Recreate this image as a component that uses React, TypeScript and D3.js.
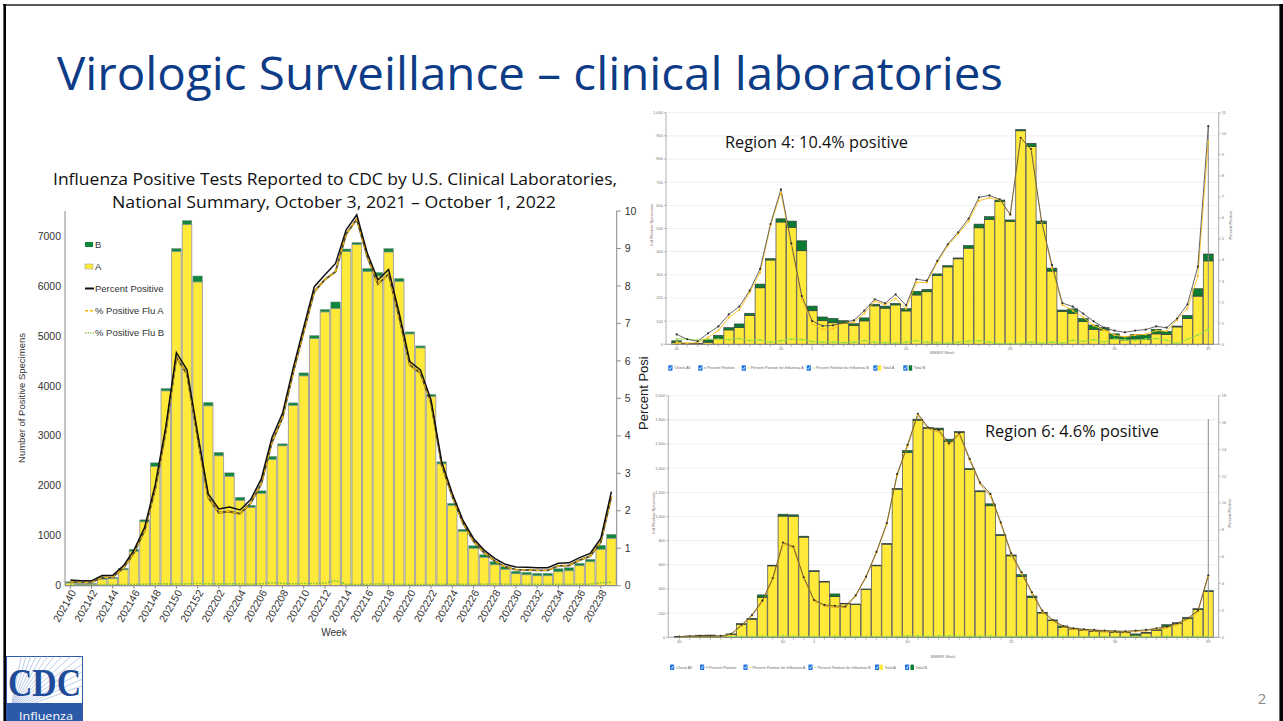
import React from "react";
import * as d3 from "d3";

// ---- national summary (clinical labs) ----
const weeks = [
  "202140", "202141", "202142", "202143", "202144", "202145", "202146", "202147", "202148", "202149",
  "202150", "202151", "202152", "202201", "202202", "202203", "202204", "202205", "202206", "202207",
  "202208", "202209", "202210", "202211", "202212", "202213", "202214", "202215", "202216", "202217",
  "202218", "202219", "202220", "202221", "202222", "202223", "202224", "202225", "202226", "202227",
  "202228", "202229", "202230", "202231", "202232", "202233", "202234", "202235", "202236", "202237",
  "202238", "202239",
];
const natTotal = [80, 40, 45, 160, 170, 350, 730, 1320, 2460, 3950, 6750, 7310, 6200, 3670, 2670, 2260, 1770, 1610, 1900, 2590, 2840, 3660, 4260, 5010, 5530, 5680, 6740, 6870, 6350, 6270, 6750, 6150, 5080, 4800, 3830, 2480, 1650, 1130, 800, 620, 480, 380, 290, 270, 250, 250, 340, 360, 450, 530, 810, 1030];
const natB = [25, 15, 15, 30, 25, 30, 40, 40, 70, 50, 60, 80, 120, 70, 70, 70, 60, 40, 50, 60, 40, 50, 60, 60, 50, 130, 50, 40, 60, 70, 70, 60, 40, 40, 40, 40, 40, 40, 50, 50, 60, 50, 50, 50, 50, 50, 60, 60, 50, 50, 80, 80];
const natPct = [0.15, 0.13, 0.13, 0.27, 0.28, 0.53, 0.95, 1.55, 2.69, 4.24, 6.22, 5.76, 4.07, 2.45, 2.05, 2.1, 2.02, 2.3, 2.85, 3.95, 4.6, 5.8, 6.9, 7.98, 8.3, 8.6, 9.5, 9.9, 8.87, 8.16, 8.44, 7.27, 5.98, 5.76, 4.96, 3.31, 2.46, 1.75, 1.26, 0.95, 0.73, 0.57, 0.5, 0.49, 0.48, 0.48, 0.6, 0.61, 0.75, 0.86, 1.26, 2.51];
const natPctA = [0.1, 0.09, 0.09, 0.22, 0.23, 0.47, 0.88, 1.47, 2.58, 4.12, 6.1, 5.64, 3.95, 2.35, 1.95, 1.98, 1.92, 2.2, 2.72, 3.82, 4.48, 5.68, 6.78, 7.85, 8.17, 8.38, 9.38, 9.78, 8.77, 8.05, 8.32, 7.16, 5.89, 5.67, 4.88, 3.23, 2.38, 1.68, 1.19, 0.88, 0.66, 0.5, 0.43, 0.42, 0.41, 0.41, 0.53, 0.54, 0.68, 0.79, 1.16, 2.38];
const natPctB = [0.03, 0.02, 0.02, 0.03, 0.03, 0.03, 0.04, 0.04, 0.05, 0.05, 0.05, 0.05, 0.06, 0.05, 0.05, 0.05, 0.05, 0.04, 0.05, 0.08, 0.06, 0.05, 0.06, 0.06, 0.07, 0.14, 0.04, 0.03, 0.04, 0.05, 0.04, 0.04, 0.03, 0.03, 0.03, 0.04, 0.04, 0.04, 0.04, 0.04, 0.05, 0.04, 0.04, 0.04, 0.04, 0.04, 0.04, 0.04, 0.04, 0.04, 0.08, 0.09];
const natLeftTicks = [0, 1000, 2000, 3000, 4000, 5000, 6000, 7000];
const natRightTicks = [0, 1, 2, 3, 4, 5, 6, 7, 8, 9, 10];
const natTickWeeks = weeks.filter((_, i) => i % 2 === 0);

// ---- region screenshots ----
const regionWeeks = weeks.map((w) => String(+w.slice(4)));
const regionTickWeeks = ["40", "50", "1", "10", "20", "30", "39"];

const r4Total = [15, 5, 3, 19, 39, 72, 88, 134, 260, 370, 542, 532, 447, 165, 118, 112, 102, 89, 114, 173, 165, 177, 154, 229, 237, 304, 340, 373, 427, 519, 551, 623, 537, 928, 868, 532, 329, 148, 153, 111, 83, 72, 45, 33, 42, 43, 65, 56, 79, 125, 240, 390];
const r4B = [8, 3, 2, 10, 13, 10, 16, 9, 16, 6, 14, 27, 43, 20, 16, 19, 12, 7, 13, 7, 9, 7, 10, 16, 10, 7, 6, 4, 12, 16, 12, 7, 6, 6, 14, 10, 13, 6, 19, 13, 19, 10, 20, 14, 19, 22, 20, 13, 4, 14, 32, 30];
const r4Pct = [0.47, 0.24, 0.14, 0.52, 0.85, 1.42, 1.79, 2.55, 3.58, 5.71, 7.36, 4.79, 2.29, 1.11, 0.87, 0.9, 1.03, 1.14, 1.6, 2.14, 1.95, 2.37, 1.85, 3.09, 3.02, 3.96, 4.75, 5.32, 5.97, 6.98, 7.07, 6.88, 6.17, 9.81, 9.27, 5.85, 3.77, 1.96, 1.79, 1.46, 1.09, 0.79, 0.65, 0.57, 0.65, 0.7, 0.85, 0.79, 1.22, 1.9, 3.69, 10.36];
const r4PctA = [0.1, 0.05, 0.08, 0.32, 0.65, 1.27, 1.63, 2.45, 3.4, 5.63, 7.2, 4.64, 2.14, 0.97, 0.71, 0.74, 1.0, 1.04, 1.47, 2.04, 1.88, 2.18, 1.69, 2.94, 2.93, 3.88, 4.68, 5.24, 5.84, 6.82, 6.96, 6.85, 6.14, 9.78, 9.22, 5.81, 3.61, 1.87, 1.6, 1.28, 0.89, 0.68, 0.43, 0.36, 0.44, 0.47, 0.65, 0.62, 1.16, 1.69, 3.24, 9.62];
const r4PctB = [0.25, 0.25, 0.19, 0.25, 0.24, 0.22, 0.27, 0.17, 0.21, 0.1, 0.17, 0.25, 0.22, 0.13, 0.1, 0.11, 0.08, 0.1, 0.17, 0.1, 0.08, 0.06, 0.1, 0.17, 0.11, 0.08, 0.05, 0.1, 0.14, 0.17, 0.11, 0.02, 0.02, 0.02, 0.11, 0.05, 0.1, 0.06, 0.19, 0.14, 0.22, 0.11, 0.25, 0.21, 0.19, 0.25, 0.27, 0.19, 0.03, 0.24, 0.44, 0.71];
const r4LeftTicks = [0, 100, 200, 300, 400, 500, 600, 700, 800, 900, 1000];
const r4RightTicks = [0, 1, 2, 3, 4, 5, 6, 7, 8, 9, 10, 11];

const r6Total = [6, 11, 17, 19, 11, 28, 113, 157, 351, 597, 1019, 1014, 837, 552, 464, 359, 282, 276, 400, 597, 776, 1232, 1547, 1806, 1737, 1732, 1640, 1704, 1398, 1213, 1105, 851, 682, 519, 342, 207, 144, 94, 75, 64, 58, 52, 47, 44, 28, 41, 64, 105, 121, 166, 238, 387];
const r6B = [3, 5, 6, 5, 3, 5, 5, 8, 20, 6, 16, 12, 8, 7, 6, 22, 5, 4, 4, 5, 5, 6, 16, 10, 8, 14, 20, 8, 8, 8, 16, 8, 8, 16, 14, 6, 6, 12, 6, 6, 8, 6, 6, 6, 10, 6, 8, 14, 8, 12, 8, 8];
const r6Pct = [0.05, 0.08, 0.1, 0.08, 0.1, 0.25, 0.92, 1.66, 2.73, 4.4, 7.06, 6.76, 4.47, 2.78, 2.41, 2.34, 2.29, 3.13, 4.52, 6.36, 8.5, 12.15, 14.33, 16.65, 15.63, 15.45, 14.46, 15.2, 13.29, 11.53, 10.68, 8.55, 6.26, 4.84, 3.35, 1.99, 1.29, 0.84, 0.67, 0.6, 0.55, 0.5, 0.47, 0.45, 0.5, 0.55, 0.67, 0.8, 1.04, 1.42, 1.99, 4.62];
const r6PctA = [0.02, 0.04, 0.05, 0.04, 0.05, 0.2, 0.85, 1.6, 2.62, 4.3, 6.95, 6.65, 4.38, 2.7, 2.32, 2.22, 2.22, 3.05, 4.45, 6.28, 8.42, 12.05, 14.2, 16.55, 15.52, 15.3, 14.3, 15.08, 13.18, 11.4, 10.52, 8.45, 6.15, 4.72, 3.24, 1.9, 1.22, 0.76, 0.6, 0.53, 0.48, 0.44, 0.41, 0.39, 0.43, 0.48, 0.6, 0.7, 0.95, 1.33, 1.9, 4.55];
const r6PctB = [0.03, 0.04, 0.05, 0.04, 0.05, 0.05, 0.07, 0.06, 0.08, 0.05, 0.1, 0.07, 0.06, 0.05, 0.06, 0.08, 0.06, 0.05, 0.05, 0.06, 0.05, 0.06, 0.1, 0.1, 0.07, 0.09, 0.1, 0.07, 0.07, 0.08, 0.09, 0.06, 0.06, 0.08, 0.07, 0.06, 0.05, 0.07, 0.05, 0.04, 0.05, 0.04, 0.04, 0.04, 0.05, 0.04, 0.05, 0.07, 0.05, 0.06, 0.05, 0.05];
const r6LeftTicks = [0, 200, 400, 600, 800, 1000, 1200, 1400, 1600, 1800, 2000];
const r6RightTicks = [0, 2, 4, 6, 8, 10, 12, 14, 16, 18];

const legendNames = ["Check All", "Percent Positive", "Percent Positive for Influenza A", "Percent Positive for Influenza B", "Total A", "Total B"];

const SANS = "'Liberation Sans', Arial, sans-serif";
const TITLE_FONT = "'Open Sans', 'Noto Sans', sans-serif";
const YELLOW = "#FFEA3A";
const GREEN = "#10873D";

function MainChart() {
  const left = 65, right = 616.7, top = 211, bottom = 585.7;
  const x = d3.scaleBand<string>().domain(weeks).range([left, right]).paddingInner(0.1).paddingOuter(0.05);
  const y = d3.scaleLinear().domain([0, 7500]).range([bottom, top]);
  const yp = d3.scaleLinear().domain([0, 10]).range([bottom, top]);
  const cx = (i: number) => (x(weeks[i]) as number) + x.bandwidth() / 2;
  const line = (vals: number[]) => d3.line<number>().x((_, i) => cx(i)).y((v) => yp(v))(vals) as string;

  return (
    <g fontFamily={SANS}>
      <text x={335} y={185} textAnchor="middle" fontFamily={TITLE_FONT} fontSize={17} fill="#111" textLength={564} lengthAdjust="spacingAndGlyphs">
        Influenza Positive Tests Reported to CDC by U.S. Clinical Laboratories,
      </text>
      <text x={334} y={208} textAnchor="middle" fontFamily={TITLE_FONT} fontSize={17} fill="#111" textLength={444} lengthAdjust="spacingAndGlyphs">
        National Summary, October 3, 2021 – October 1, 2022
      </text>

      {weeks.map((w, i) => {
        const a = natTotal[i] - natB[i];
        return (
          <g key={w}>
            <rect x={x(w)} y={y(a)} width={x.bandwidth()} height={y(0) - y(a)} fill={YELLOW} stroke="#9c9c9c" strokeWidth={0.9} />
            <rect x={x(w)} y={y(natTotal[i])} width={x.bandwidth()} height={y(a) - y(natTotal[i])} fill={GREEN} stroke="#9c9c9c" strokeWidth={0.5} />
          </g>
        );
      })}

      <path d={line(natPctB)} fill="none" stroke="#6fbf3a" strokeWidth={1.6} strokeDasharray="1.5,1.5" />
      <path d={line(natPctA)} fill="none" stroke="#5a5030" strokeWidth={1.9} />
      <path d={line(natPctA)} fill="none" stroke="#F5B800" strokeWidth={1.3} strokeDasharray="4,3" />
      <path d={line(natPct)} fill="none" stroke="#111" strokeWidth={1.5} />

      <line x1={left} x2={left} y1={top} y2={bottom} stroke="#8a8a8a" />
      <line x1={right} x2={right} y1={top} y2={bottom} stroke="#8a8a8a" />
      <line x1={left} x2={right} y1={bottom} y2={bottom} stroke="#8a8a8a" />
      {natLeftTicks.map((t) => (
        <text key={t} x={left - 4} y={y(t)} dy="0.35em" textAnchor="end" fontSize={10.5} fill="#333">{t}</text>
      ))}
      {natRightTicks.map((t) => (
        <g key={t}>
          <line x1={right} x2={right + 4} y1={yp(t)} y2={yp(t)} stroke="#8a8a8a" />
          <text x={right + 8} y={yp(t)} dy="0.35em" fontSize={10.5} fill="#333">{t}</text>
        </g>
      ))}
      {natTickWeeks.map((w) => {
        const px = (x(w) as number) + x.bandwidth() / 2;
        return (
          <g key={w}>
            <line x1={px} x2={px} y1={bottom} y2={bottom + 3} stroke="#8a8a8a" />
            <text transform={`translate(${px + 3},${bottom + 5}) rotate(-60)`} textAnchor="end" dy="0.35em" fontSize={10.5} fill="#333">{w}</text>
          </g>
        );
      })}
      <text x={334} y={636} textAnchor="middle" fontSize={10} fill="#333">Week</text>
      <text transform="translate(25,398) rotate(-90)" textAnchor="middle" fontSize={9.5} fill="#333">Number of Positive Specimens</text>
      {/* right-axis title, partly hidden behind the region screenshots */}
      <clipPath id="ppclip"><rect x={600} y={357} width={60} height={200} /></clipPath>
      <g clipPath="url(#ppclip)">
        <text transform="translate(648,430) rotate(-90)" fontSize={13} fill="#222">Percent Positive</text>
      </g>

      {/* legend */}
      <rect x={85} y={242} width={8} height={5} fill={GREEN} />
      <text x={95} y={245} dy="0.35em" fontSize={9.5} fill="#333">B</text>
      <rect x={85} y={264} width={8} height={5} fill={YELLOW} stroke="#999" strokeWidth={0.5} />
      <text x={95} y={267} dy="0.35em" fontSize={9.5} fill="#333">A</text>
      <line x1={85} x2={94} y1={288.5} y2={288.5} stroke="#111" strokeWidth={2} />
      <text x={95} y={288.5} dy="0.35em" fontSize={9.5} fill="#333">Percent Positive</text>
      <line x1={85} x2={94} y1={310.7} y2={310.7} stroke="#F5B800" strokeWidth={1.6} strokeDasharray="3,2" />
      <text x={95} y={310.7} dy="0.35em" fontSize={9.5} fill="#333">% Positive Flu A</text>
      <line x1={85} x2={94} y1={333} y2={333} stroke="#6fbf3a" strokeWidth={1.4} strokeDasharray="1.2,1.5" />
      <text x={95} y={333} dy="0.35em" fontSize={9.5} fill="#333">% Positive Flu B</text>
    </g>
  );
}

type RegionProps = {
  left: number; right: number; top: number; bottom: number;
  x0: number; x1: number;
  yMax: number; pMax: number; leftTicks: number[]; rightTicks: number[];
  total: number[]; b: number[]; pct: number[]; pctA: number[]; pctB: number[];
  title: string; titleX: number; titleY: number; titleW: number;
  legendX: number; legendY: number; mmwrX: number; mmwrY: number; hoverTop: number;
  leftTitleX: number; rightTitleX: number; axisTitleY: number;
  lineColor: string; aColor: string;
};

function Check({ x, y }: { x: number; y: number }) {
  return (
    <g>
      <rect x={x} y={y - 2.7} width={4.2} height={5.4} fill="#1f74e0" rx={0.4} />
      <path d={`M${x + 0.9},${y + 0.1} l1,1.3 l1.5,-2.8`} fill="none" stroke="#fff" strokeWidth={0.7} />
    </g>
  );
}

function RegionChart(p: RegionProps) {
  const x = d3.scalePoint<string>().domain(regionWeeks).range([p.x0, p.x1]);
  const bw = x.step() - 0.5;
  const y = d3.scaleLinear().domain([0, p.yMax]).range([p.bottom, p.top]);
  const yp = d3.scaleLinear().domain([0, p.pMax]).range([p.bottom, p.top]);
  const px = (i: number) => x(regionWeeks[i]) as number;
  const line = (vals: number[]) => d3.line<number>().x((_, i) => px(i)).y((v) => yp(v))(vals) as string;
  const fmt = d3.format(",");
  const lx = p.legendX, ly = p.legendY;

  return (
    <g fontFamily={SANS}>
      {p.leftTicks.map((t) => (
        <line key={t} x1={p.left} x2={p.right} y1={y(t)} y2={y(t)} stroke="#ebebeb" strokeWidth={0.8} />
      ))}
      {regionWeeks.map((w, i) => {
        const a = p.total[i] - p.b[i];
        const bx = px(i) - bw / 2;
        return (
          <g key={w}>
            <rect x={bx} y={y(a)} width={bw} height={y(0) - y(a)} fill={YELLOW} stroke="#5a5a5a" strokeWidth={0.8} />
            <rect x={bx} y={y(p.total[i])} width={bw} height={y(a) - y(p.total[i])} fill="#0b7a33" stroke="#3a3a3a" strokeWidth={0.6} />
          </g>
        );
      })}
      <line x1={p.x1} x2={p.x1} y1={p.hoverTop} y2={p.bottom} stroke="#8a8a8a" strokeWidth={1} />

      <path d={line(p.pctB)} fill="none" stroke="#8fdc4a" strokeWidth={0.9} />
      <path d={line(p.pctA)} fill="none" stroke={p.aColor} strokeWidth={0.9} />
      <path d={line(p.pct)} fill="none" stroke={p.lineColor} strokeWidth={0.9} />
      {regionWeeks.map((w, i) => (
        <g key={w}>
          <circle cx={px(i)} cy={yp(p.pctB[i])} r={1.1} fill="#8fdc4a" />
          <circle cx={px(i)} cy={yp(p.pctA[i])} r={1.1} fill="#ffc21a" />
          <circle cx={px(i)} cy={yp(p.pct[i])} r={1.1} fill="#333" />
        </g>
      ))}

      <line x1={p.left} x2={p.left} y1={p.top} y2={p.bottom} stroke="#8c8c8c" strokeWidth={0.7} />
      <line x1={p.right} x2={p.right} y1={p.top} y2={p.bottom} stroke="#8c8c8c" strokeWidth={0.7} />
      <line x1={p.left} x2={p.right} y1={p.bottom} y2={p.bottom} stroke="#8c8c8c" strokeWidth={0.7} />
      {p.leftTicks.map((t) => (
        <g key={t}>
          <line x1={p.left - 2} x2={p.left} y1={y(t)} y2={y(t)} stroke="#8c8c8c" strokeWidth={0.6} />
          <text x={p.left - 3} y={y(t)} dy="0.35em" textAnchor="end" fontSize={4} fill="#777">{fmt(t)}</text>
        </g>
      ))}
      {p.rightTicks.map((t) => (
        <g key={t}>
          <line x1={p.right} x2={p.right + 2} y1={yp(t)} y2={yp(t)} stroke="#8c8c8c" strokeWidth={0.6} />
          <text x={p.right + 3} y={yp(t)} dy="0.35em" fontSize={4} fill="#777">{t}</text>
        </g>
      ))}
      {regionWeeks.map((w, i) => (
        <line key={w} x1={px(i)} x2={px(i)} y1={p.bottom} y2={p.bottom + 2.5} stroke="#8c8c8c" strokeWidth={0.6} />
      ))}
      {regionTickWeeks.map((w) => (
        <text key={w} x={x(w)} y={p.bottom + 6} textAnchor="middle" fontSize={4} fill="#777">{w}</text>
      ))}
      <text x={p.mmwrX} y={p.mmwrY} textAnchor="middle" fontSize={4} fill="#777">MMWR Week</text>
      <text transform={`translate(${p.leftTitleX},${p.axisTitleY}) rotate(-90)`} textAnchor="middle" fontSize={4} fill="#7a5a50">
        # of Positive Specimens
      </text>
      <text transform={`translate(${p.rightTitleX},${p.axisTitleY}) rotate(-90)`} textAnchor="middle" fontSize={4} fill="#666">
        Percent Positive
      </text>

      {/* legend row */}
      <Check x={lx} y={ly} />
      <text x={lx + 6} y={ly} dy="0.35em" fontSize={3.8} fill="#666">{legendNames[0]}</text>
      <Check x={lx + 30} y={ly} />
      <line x1={lx + 35.5} x2={lx + 38} y1={ly} y2={ly} stroke="#555" strokeWidth={0.6} />
      <text x={lx + 39} y={ly} dy="0.35em" fontSize={3.8} fill="#666">{legendNames[1]}</text>
      <Check x={lx + 73.4} y={ly} />
      <line x1={lx + 79} x2={lx + 81.5} y1={ly} y2={ly} stroke="#ffc21a" strokeWidth={0.6} />
      <text x={lx + 82.5} y={ly} dy="0.35em" fontSize={3.8} fill="#666">{legendNames[2]}</text>
      <Check x={lx + 138.4} y={ly} />
      <line x1={lx + 144} x2={lx + 146.5} y1={ly} y2={ly} stroke="#8fdc4a" strokeWidth={0.6} />
      <text x={lx + 147.5} y={ly} dy="0.35em" fontSize={3.8} fill="#666">{legendNames[3]}</text>
      <Check x={lx + 205} y={ly} />
      <rect x={lx + 209.5} y={ly - 2.7} width={3.4} height={5.4} fill={YELLOW} />
      <text x={lx + 214.5} y={ly} dy="0.35em" fontSize={3.8} fill="#666">{legendNames[4]}</text>
      <Check x={lx + 235} y={ly} />
      <rect x={lx + 240.5} y={ly - 2.7} width={3.4} height={5.4} fill="#0b7a33" />
      <text x={lx + 245.5} y={ly} dy="0.35em" fontSize={3.8} fill="#666">{legendNames[5]}</text>

      <text x={p.titleX} y={p.titleY} fontFamily={TITLE_FONT} fontSize={17} fill="#111" textLength={p.titleW} lengthAdjust="spacingAndGlyphs">
        {p.title}
      </text>
    </g>
  );
}

function CdcLogo() {
  const rays = d3.range(0, 14);
  return (
    <g>
      <clipPath id="cdcclip"><rect x={6.5} y={656.5} width={76} height={47} /></clipPath>
      <rect x={6.5} y={656.5} width={76} height={64.5} fill="#fff" stroke="#2c5aa8" strokeWidth={1} />
      <g clipPath="url(#cdcclip)">
        {rays.map((r) => {
          const ang = (-20 - r * 4.5) * Math.PI / 180;
          return <line key={r} x1={10} x2={10 + 140 * Math.cos(ang)} y1={712} y2={712 + 140 * Math.sin(ang)} stroke="#9fb4dc" strokeWidth={0.7} />;
        })}
      </g>
      <text x={8} y={696} fontFamily="'Liberation Serif', serif" fontWeight="bold" fontSize={41} fill="#1f4c9a" textLength={73} lengthAdjust="spacingAndGlyphs">CDC</text>
      <rect x={6.5} y={703} width={76} height={18} fill="#2c5aa8" />
      <text x={19} y={719.5} fontFamily={TITLE_FONT} fontSize={11.5} fill="#fff" textLength={54} lengthAdjust="spacingAndGlyphs">Influenza</text>
    </g>
  );
}

export default function App() {
  return (
    <div style={{ position: "absolute", left: 0, top: 0 }}>
      <svg width={1283} height={721} style={{ display: "block", background: "#fff" }}>
        <rect x={0} y={0} width={1283} height={721} fill="#fff" />
        <text x={57} y={90} fontFamily={TITLE_FONT} fontSize={46} fill="#0d3b86" textLength={946} lengthAdjust="spacingAndGlyphs">
          Virologic Surveillance – clinical laboratories
        </text>
        <MainChart />
        <RegionChart
          left={666} right={1218.7} top={112.7} bottom={344.3} x0={676.7} x1={1208.3}
          yMax={1000} pMax={11} leftTicks={r4LeftTicks} rightTicks={r4RightTicks}
          total={r4Total} b={r4B} pct={r4Pct} pctA={r4PctA} pctB={r4PctB}
          title="Region 4: 10.4% positive" titleX={725} titleY={148} titleW={183}
          legendX={668.3} legendY={368} mmwrX={942} mmwrY={354} hoverTop={126}
          leftTitleX={653} rightTitleX={1232} axisTitleY={225}
          lineColor="#555" aColor="#ffc21a"
        />
        <RegionChart
          left={668.3} right={1218.7} top={395.7} bottom={637.3} x0={679.3} x1={1208.3}
          yMax={2000} pMax={18} leftTicks={r6LeftTicks} rightTicks={r6RightTicks}
          total={r6Total} b={r6B} pct={r6Pct} pctA={r6PctA} pctB={r6PctB}
          title="Region 6: 4.6% positive" titleX={985} titleY={437} titleW={174}
          legendX={670} legendY={667.3} mmwrX={943} mmwrY={658} hoverTop={419}
          leftTitleX={655} rightTitleX={1231} axisTitleY={513}
          lineColor="#6b5a2a" aColor="#d9a024"
        />
        <CdcLogo />
        <text x={1262} y={704} textAnchor="middle" fontFamily={TITLE_FONT} fontSize={15} fill="#8a8a8a">2</text>
        {/* slide frame */}
        <line x1={3} x2={1283} y1={5} y2={5} stroke="#222" strokeWidth={1.6} />
        <line x1={4.7} x2={4.7} y1={4} y2={721} stroke="#000" strokeWidth={2.6} />
        <rect x={1279.4} y={4} width={3.6} height={717} fill="#000" />
      </svg>
    </div>
  );
}
